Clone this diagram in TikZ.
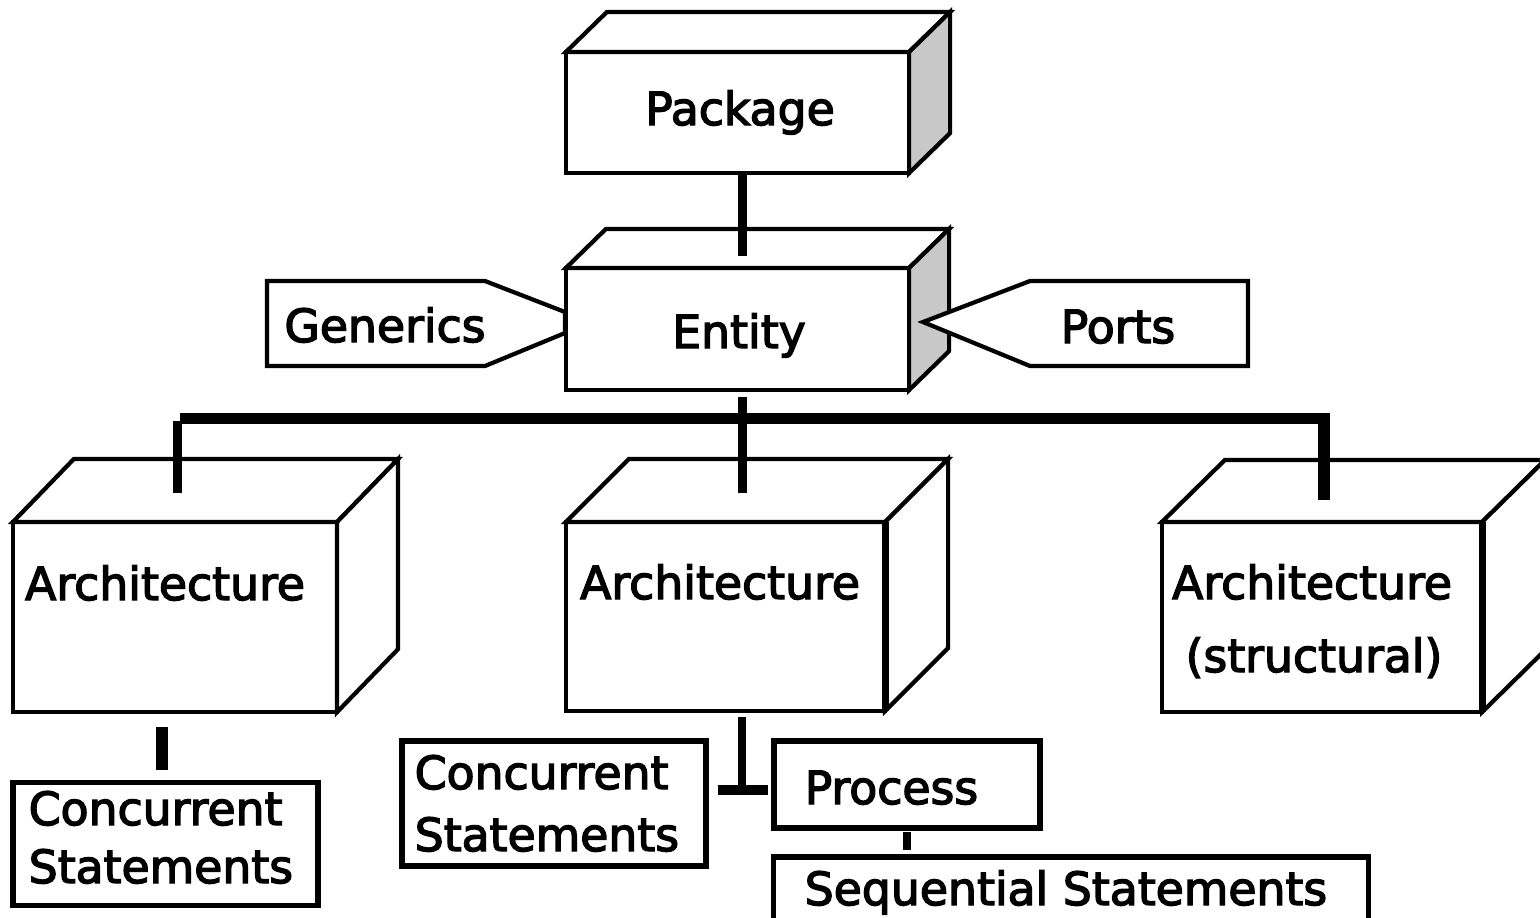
\documentclass[tikz,border=0pt]{standalone}
\usepackage{fontspec}
\setmainfont{DejaVu Sans}
\newfontface\lbfont{DejaVu Sans}[FakeBold=3]
\usetikzlibrary{calc}
\definecolor{sidegray}{RGB}{200,200,200}
\tikzset{
  lbl/.style={inner sep=0pt, anchor=base, font=\lbfont\fontsize{13}{16}\selectfont},
  lblw/.style={lbl, anchor=base west},
  front/.style={draw, fill=white, line width=1.2pt, inner sep=0pt, outer sep=0pt},
  face/.style={draw, line width=1.2pt, line join=miter},
  sbox/.style={draw, fill=white, line width=1.5pt, inner sep=0pt, outer sep=0pt},
  tag/.style={draw, fill=white, line width=1.2pt},
  conn/.style={line width=0.09cm},
  bus/.style={line width=0.11cm},
}
\newcommand\cubefaces[3]{%
  \draw[face, fill=white] (#1.north west) -- ($(#1.north west)+(#2)$) -- ($(#1.north east)+(#2)$) -- (#1.north east) -- cycle;
  \draw[face, fill=#3] (#1.north east) -- ($(#1.north east)+(#2)$) -- ($(#1.south east)+(#2)$) -- (#1.south east) -- cycle;}
\begin{document}
\begin{tikzpicture}[x=0.01cm,y=-0.01cm]
\useasboundingbox (0,0) rectangle (1540,917);
\clip (0,0) rectangle (1540,917);
\fill[white] (0,0) rectangle (1540,917);

% cubes
\node[front, minimum width=3.43cm, minimum height=1.21cm] (pk) at (737.5,112.5) {};
\cubefaces{pk}{41,-40}{sidegray}
\node[front, minimum width=3.43cm, minimum height=1.22cm] (en) at (737.5,329) {};
\cubefaces{en}{40,-39}{sidegray}
\node[front, minimum width=3.24cm, minimum height=1.90cm] (a1) at (175,617) {};
\cubefaces{a1}{61,-63}{white}
\node[front, minimum width=3.19cm, minimum height=1.89cm] (a2) at (725.5,616.5) {};
\cubefaces{a2}{63,-63}{white}
\draw[line width=2pt] (a2.north east) -- (a2.south east);
\node[front, minimum width=3.20cm, minimum height=1.90cm] (a3) at (1322,617) {};
\cubefaces{a3}{63,-62}{white}
\draw[line width=2pt] (a3.north east) -- (a3.south east);

% tags
\draw[tag] (267,281) -- (485,281) -- (565,312) -- (565,333) -- (485,366) -- (267,366) -- cycle;
\draw[tag] (1248,281) -- (1030,281) -- (923,322) -- (1030,366) -- (1248,366) -- cycle;

% plain boxes
\node[sbox, minimum width=3.05cm, minimum height=1.23cm] (c1) at (165.5,844) {};
\node[sbox, minimum width=3.04cm, minimum height=1.25cm] (c2) at (554,803.5) {};
\node[sbox, minimum width=2.66cm, minimum height=0.87cm] (pr) at (907,784.5) {};
\node[sbox, minimum width=5.94cm, minimum height=0.86cm] (sq) at (1071,900) {};

% texts
\node[lbl] (tpk) at (740,125) {Package};
\node[lbl] (ten) at (739,348) {Entity};
\node[lbl] (ta1) at (165,600) {Architecture};
\node[lbl] (ta2) at (720,599) {Architecture};
\node[lbl] (ta3) at (1312,599) {Architecture};
\node[lbl] (ts3) at (1314,672) {(structural)};
\node[lbl] (tgen) at (385,342) {Generics};
\node[lbl] (tport) at (1118,343) {Ports};
\node[lblw] (tc1a) at (28,825) {Concurrent};
\node[lblw] (tc1b) at (28,883) {Statements};
\node[lblw] (tc2a) at (414,789) {Concurrent};
\node[lblw] (tc2b) at (414,851) {Statements};
\node[lblw] (tpr) at (804,804) {Process};
\node[lblw] (tsq) at (804,905) {Sequential Statements};

% connectors
\coordinate (busL) at (180,418);
\coordinate (busR) at (1330,418);
\coordinate (tee) at (742,790);
\draw[conn] ($(pk.south)+(4.5,0)$) -- ($(en.north)+(4.5,-12)$);
\draw[conn] ($(en.south)+(4.5,7)$) -- ($(a2.north)+(16.5,-29)$);
\draw[bus] (busL) -- (busR);
\draw[conn] ($(a1.north)+(2,-101)$) -- ($(a1.north)+(2,-29)$);
\draw[line width=0.12cm] ($(a3.north)+(2,-104)$) -- ($(a3.north)+(2,-22)$);
\draw[line width=0.12cm] ($(a1.south)+(-13,15)$) -- ($(c1.north)+(-3.5,-12)$);
\draw[line width=0.08cm] ($(a2.south)+(16.5,6)$) -- (tee);
\draw[line width=0.1cm] ($(c2.east)+(12,-13.5)$) -- ($(pr.west)+(-6,5.5)$);
\draw[line width=0.08cm] ($(pr.south)+(0,4)$) -- ($(sq.north)+(-164,-7)$);
\end{tikzpicture}
\end{document}
